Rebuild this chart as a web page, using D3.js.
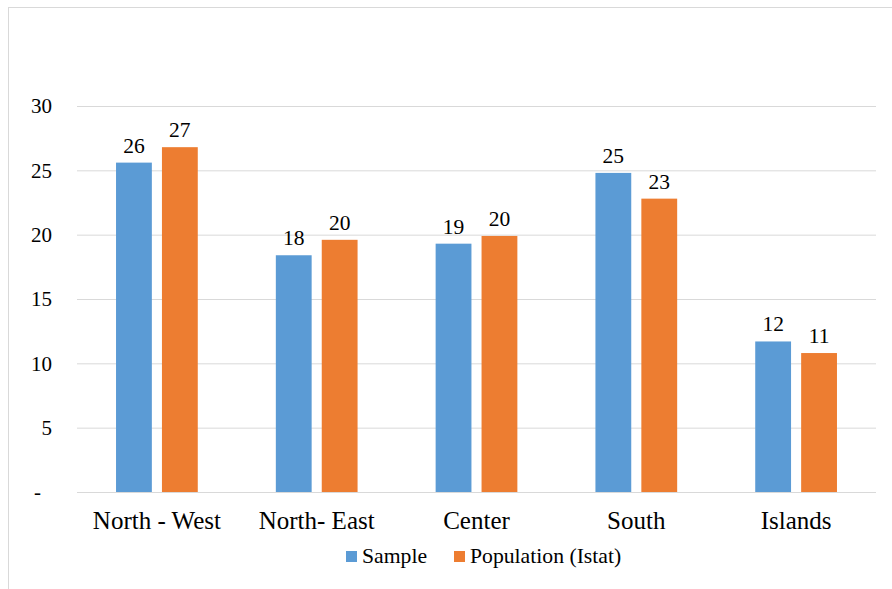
<!DOCTYPE html>
<html>
<head>
<meta charset="utf-8">
<script src="https://cdn.jsdelivr.net/npm/d3@7/dist/d3.min.js"></script>
<style>
  html, body { margin: 0; padding: 0; background: #fff; }
</style>
</head>
<body>
<svg id="regions-svg" width="892" height="589"></svg>
<script>
// Regional distribution (%): survey sample vs. Istat population
const regions = ["North - West", "North- East", "Center", "South", "Islands"];
const seriesNames = ["Sample", "Population (Istat)"];
const sampleValues = [25.6, 18.4, 19.3, 24.8, 11.7];
const populationValues = [26.8, 19.6, 19.9, 22.8, 10.8];
const yTicks = [0, 5, 10, 15, 20, 25, 30];
const colors = ["#5B9BD5", "#ED7D31"];

const serifFamily = "'Liberation Serif'";
const setFont = (sel, size) => sel
  .style("font-family", serifFamily, "important")
  .style("font-size", size + "px", "important");

const svg = d3.select("#regions-svg");
const plot = { left: 77, right: 876, top: 106, bottom: 492 };

// outer frame
svg.append("rect")
  .attr("x", 8.5).attr("y", 7.5)
  .attr("width", 900).attr("height", 600)
  .attr("fill", "none").attr("stroke", "#D9D9D9").attr("stroke-width", 1);

const x = d3.scaleBand().domain(regions).range([plot.left, plot.right]).padding(0);
const xs = d3.scaleBand().domain(seriesNames).range([0, x.bandwidth()])
  .paddingInner(0.22).paddingOuter(0.85);
const y = d3.scaleLinear().domain([0, 30]).range([plot.bottom, plot.top]);

// gridlines
const grid = svg.append("g")
  .attr("transform", `translate(${plot.left},0)`)
  .call(d3.axisLeft(y).tickValues(yTicks).tickSize(-(plot.right - plot.left)).tickFormat(""));
grid.select(".domain").remove();
grid.selectAll("line").attr("stroke", "#D9D9D9").attr("stroke-width", 1);

// y tick labels
const yAxis = svg.append("g")
  .attr("transform", "translate(52,0)")
  .call(d3.axisLeft(y).tickValues(yTicks).tickSize(0).tickPadding(0)
    .tickFormat(d => d === 0 ? "-" : d3.format("d")(d)));
yAxis.select(".domain").remove();
yAxis.selectAll("text")
  .call(setFont, 21)
  .attr("fill", "#000")
  .attr("x", d => d === 0 ? -11 : 0);

// bars
const rows = regions.map((r, i) => ({ region: r, values: [sampleValues[i], populationValues[i]] }));
const groups = svg.selectAll("g.region").data(rows).join("g")
  .attr("class", "region")
  .attr("transform", d => `translate(${x(d.region)},0)`);

groups.selectAll("rect").data(d => d.values.map((v, k) => ({ v, k }))).join("rect")
  .attr("x", d => xs(seriesNames[d.k]))
  .attr("width", xs.bandwidth())
  .attr("y", d => y(d.v))
  .attr("height", d => y(0) - y(d.v))
  .attr("fill", d => colors[d.k]);

// value labels
groups.selectAll("text.val").data(d => d.values.map((v, k) => ({ v, k }))).join("text")
  .attr("class", "val")
  .call(setFont, 21.5)
  .attr("x", d => xs(seriesNames[d.k]) + xs.bandwidth() / 2)
  .attr("y", d => y(d.v) - 10)
  .attr("text-anchor", "middle")
  .attr("fill", "#000")
  .text(d => d3.format(".0f")(d.v));

// category labels
svg.append("g").selectAll("text").data(regions).join("text")
  .call(setFont, 25)
  .attr("x", d => x(d) + x.bandwidth() / 2)
  .attr("y", 529)
  .attr("text-anchor", "middle")
  .attr("fill", "#000")
  .text(d => d);

// legend
const legendX = [346, 454];
const legend = svg.append("g").selectAll("g").data(seriesNames).join("g")
  .attr("transform", (d, i) => `translate(${legendX[i]},551)`);
legend.append("rect").attr("width", 11).attr("height", 11).attr("fill", (d, i) => colors[i]);
legend.append("text").attr("x", 16).attr("y", 12)
  .call(setFont, 21.7)
  .attr("fill", "#000").text(d => d);
</script>
</body>
</html>
